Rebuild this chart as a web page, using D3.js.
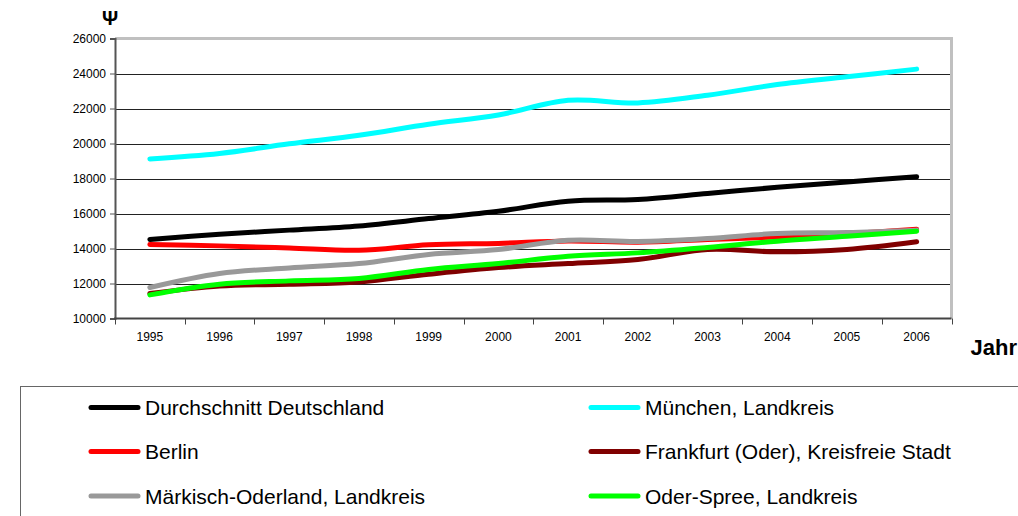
<!DOCTYPE html>
<html>
<head>
<meta charset="utf-8">
<script src="https://cdn.jsdelivr.net/npm/d3@7"></script>
<style>
  body { margin: 0; background: #fff; }
  svg text { font-family: "Liberation Sans", Arial, sans-serif; }
</style>
</head>
<body>
<div id="chart"></div>
<script>
// data
const years = ["1995","1996","1997","1998","1999","2000","2001","2002","2003","2004","2005","2006"];
const yTicks = [10000, 12000, 14000, 16000, 18000, 20000, 22000, 24000, 26000];

const durchschnitt = [14520, 14820, 15050, 15290, 15710, 16130, 16700, 16800, 17140, 17500, 17800, 18100];
const muenchen     = [19120, 19430, 19980, 20470, 21100, 21630, 22470, 22320, 22760, 23370, 23810, 24250];
const berlin       = [14230, 14150, 14030, 13900, 14210, 14290, 14430, 14360, 14510, 14660, 14850, 15100];
const frankfurt    = [11430, 11850, 11960, 12090, 12530, 12910, 13140, 13370, 13940, 13810, 13940, 14380];
const maerkisch    = [11770, 12570, 12890, 13140, 13660, 13940, 14470, 14400, 14570, 14860, 14910, 15050];
const oderSpree    = [11350, 11960, 12150, 12290, 12800, 13140, 13560, 13750, 14060, 14420, 14700, 14990];

const seriesNames  = ["Durchschnitt Deutschland", "München, Landkreis", "Berlin",
                      "Frankfurt (Oder), Kreisfreie Stadt", "Märkisch-Oderland, Landkreis", "Oder-Spree, Landkreis"];
const seriesValues = [durchschnitt, muenchen, berlin, frankfurt, maerkisch, oderSpree];
const seriesColors = ["#000000", "#00ffff", "#ff0000", "#800000", "#999999", "#00ff00"];

const width = 1018, height = 516;
const plot = { left: 115, right: 951.5, top: 38.5, bottom: 318.5 };
const FONT = "Liberation Sans, Arial, sans-serif";

const svg = d3.select("#chart").append("svg")
  .attr("width", width)
  .attr("height", height)
  .style("display", "block");

const x = d3.scaleBand().domain(years).range([plot.left, plot.right]);
const y = d3.scaleLinear().domain([10000, 26000]).range([plot.bottom, plot.top]);

// gridlines
svg.append("g")
  .selectAll("line")
  .data(yTicks.filter(t => t > 10000 && t < 26000))
  .join("line")
  .attr("x1", plot.left).attr("x2", plot.right)
  .attr("y1", d => Math.round(y(d)) + 0.5).attr("y2", d => Math.round(y(d)) + 0.5)
  .attr("stroke", "#222")
  .attr("stroke-width", 1);

// plot area border (top + right), light gray
svg.append("path")
  .attr("d", `M${plot.left},${plot.top}H${plot.right}V${plot.bottom}`)
  .attr("fill", "none")
  .attr("stroke", "#c0c0c0")
  .attr("stroke-width", 3);

// y axis
const yAxis = svg.append("g")
  .attr("transform", `translate(${plot.left},0)`)
  .call(d3.axisLeft(y).tickValues(yTicks).tickSize(5).tickPadding(4).tickFormat(d3.format("d")))
  .attr("font-family", FONT)
  .attr("font-size", 12);
yAxis.select(".domain").attr("stroke", "#555").attr("stroke-width", 2);
yAxis.selectAll(".tick line").attr("stroke", "#555");
yAxis.selectAll("text").attr("fill", "#000");

// x axis with boundary ticks
const xAxisG = svg.append("g").attr("transform", `translate(0,${plot.bottom})`);
xAxisG.append("line")
  .attr("x1", plot.left - 1).attr("x2", plot.right)
  .attr("stroke", "#444").attr("stroke-width", 2);
xAxisG.selectAll(".bt")
  .data(years.concat(["end"]))
  .join("line")
  .attr("class", "bt")
  .attr("x1", (d, i) => Math.round(plot.left + i * x.bandwidth()) + 0.5)
  .attr("x2", (d, i) => Math.round(plot.left + i * x.bandwidth()) + 0.5)
  .attr("y1", 0).attr("y2", 6)
  .attr("stroke", "#444");
xAxisG.selectAll(".lbl")
  .data(years)
  .join("text")
  .attr("class", "lbl")
  .attr("x", d => x(d) + x.bandwidth() / 2)
  .attr("y", 22)
  .attr("text-anchor", "middle")
  .attr("font-family", FONT)
  .attr("font-size", 12)
  .text(d => d);

// series lines
const line = d3.line()
  .x((d, i) => x(years[i]) + x.bandwidth() / 2)
  .y(d => y(d))
  .curve(d3.curveCatmullRom.alpha(0.5));

svg.append("g")
  .selectAll("path")
  .data(seriesValues)
  .join("path")
  .attr("d", d => line(d))
  .attr("fill", "none")
  .attr("stroke", (d, i) => seriesColors[i])
  .attr("stroke-width", 5)
  .attr("stroke-linecap", "round")
  .attr("stroke-linejoin", "round");

// unit symbol + axis title
svg.append("text")
  .attr("x", 110).attr("y", 25)
  .attr("text-anchor", "middle")
  .attr("font-family", FONT)
  .attr("font-size", 20).attr("font-weight", "bold")
  .text("Ψ");

svg.append("text")
  .attr("x", 1017).attr("y", 355)
  .attr("text-anchor", "end")
  .attr("font-family", FONT)
  .attr("font-size", 22).attr("font-weight", "bold")
  .text("Jahr");

// legend
const legend = svg.append("g");
legend.append("rect")
  .attr("x", 20.5).attr("y", 386.5)
  .attr("width", 1100).attr("height", 200)
  .attr("fill", "#fff")
  .attr("stroke", "#666")
  .attr("stroke-width", 1);

const legX = [91, 591];
const legY = [407.5, 451.5, 496];
const items = legend.selectAll(".item")
  .data(seriesNames)
  .join("g")
  .attr("class", "item")
  .attr("transform", (d, i) => `translate(${legX[i % 2]},${legY[Math.floor(i / 2)]})`);
items.append("line")
  .attr("x1", 0).attr("x2", 47)
  .attr("stroke", (d, i) => seriesColors[i])
  .attr("stroke-width", 5)
  .attr("stroke-linecap", "round");
items.append("text")
  .attr("x", 54).attr("y", 7.5)
  .attr("font-family", FONT)
  .attr("font-size", 21)
  .text(d => d);
</script>
</body>
</html>
